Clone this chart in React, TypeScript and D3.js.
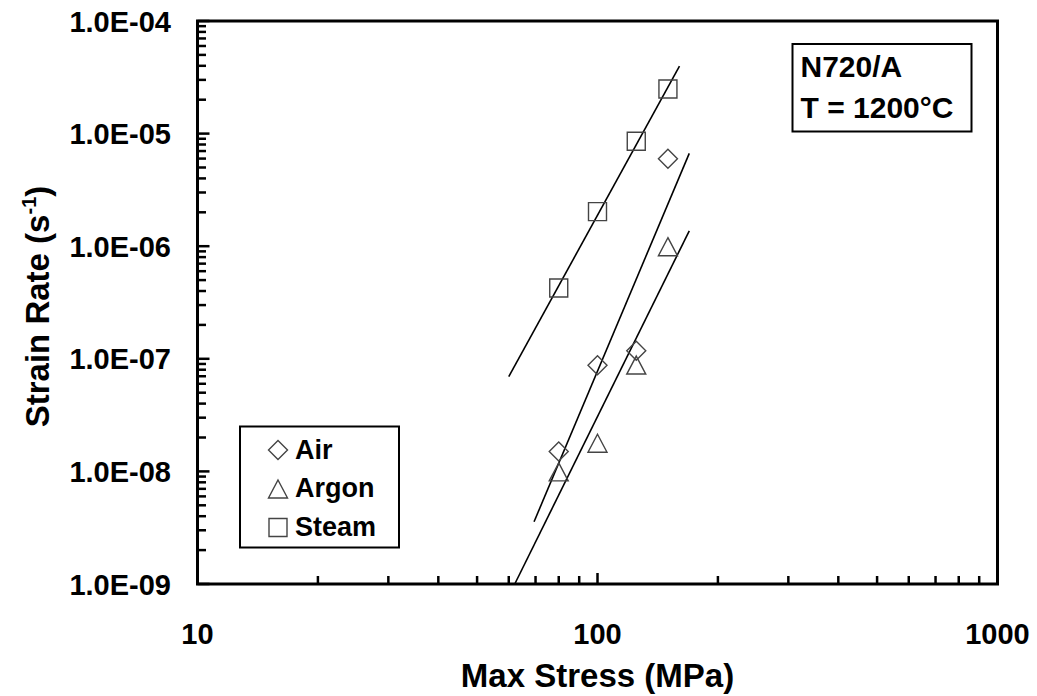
import React from "react";
import * as d3 from "d3";

// ---- data ----
const airStress = [80, 100, 125, 150];
const airRate = [1.5e-8, 8.75e-8, 1.18e-7, 5.98e-6];
const argonStress = [80, 100, 125, 150];
const argonRate = [9.9e-9, 1.78e-8, 8.8e-8, 9.9e-7];
const steamStress = [80, 100, 125, 150];
const steamRate = [4.25e-7, 2.03e-6, 8.55e-6, 2.49e-5];

// fit lines (end points)
const steamFitStress = [60.0, 160.3];
const steamFitRate = [6.93e-8, 3.98e-5];
const airFitStress = [69.4, 169.6];
const airFitRate = [3.57e-9, 6.68e-6];
const argonFitStress = [62.2, 169.6];
const argonFitRate = [1.01e-9, 1.37e-6];

const xTickValues = [10, 100, 1000];
const xTickLabels = ["10", "100", "1000"];
const yTickValues = [1e-9, 1e-8, 1e-7, 1e-6, 1e-5, 1e-4];
const yTickLabels = ["1.0E-09", "1.0E-08", "1.0E-07", "1.0E-06", "1.0E-05", "1.0E-04"];

const legendNames = ["Air", "Argon", "Steam"];
const legendShapes = ["diamond", "triangle", "square"];

const FONT = "'Liberation Sans', Arial, Helvetica, sans-serif";

const L = 197.5, T = 21, R = 997.5, B = 584;

function markerPath(shape: string, cx: number, cy: number): string {
  if (shape === "diamond") {
    const h = 9.5;
    return `M${cx},${cy - h}L${cx + h},${cy}L${cx},${cy + h}L${cx - h},${cy}Z`;
  }
  if (shape === "triangle") {
    const w = 9.5, h = 9;
    return `M${cx},${cy - h}L${cx + w},${cy + h}L${cx - w},${cy + h}Z`;
  }
  const s = 9;
  return `M${cx - s},${cy - s}H${cx + s}V${cy + s}H${cx - s}Z`;
}

export default function App() {
  const x = d3.scaleLog().domain([10, 1000]).range([L, R]);
  const y = d3.scaleLog().domain([1e-9, 1e-4]).range([B, T]);

  const xMinor: number[] = [];
  [10, 100].forEach((d) => { for (let k = 2; k <= 9; k++) xMinor.push(d * k); });
  const yMinor: number[] = [];
  [1e-9, 1e-8, 1e-7, 1e-6, 1e-5].forEach((d) => { for (let k = 2; k <= 9; k++) yMinor.push(d * k); });

  const line = d3.line<[number, number]>().x((d) => x(d[0])).y((d) => y(d[1]));
  const fit = (xs: number[], ys: number[]) => line(xs.map((v, i) => [v, ys[i]] as [number, number])) || "";

  const series = [
    { xs: airStress, ys: airRate, shape: "diamond" },
    { xs: argonStress, ys: argonRate, shape: "triangle" },
    { xs: steamStress, ys: steamRate, shape: "square" },
  ];

  const legendY = [450, 489, 527.5];
  const legendBaseline = [458.5, 497, 535.5];

  return (
    <svg width={1037} height={696} style={{ position: "absolute", left: 0, top: 0, background: "#fff" }}>
      <rect x={0} y={0} width={1037} height={696} fill="#fff" />
      <defs>
        <clipPath id="plotClip">
          <rect x={L} y={T} width={R - L} height={B - T} />
        </clipPath>
      </defs>

      {/* fit lines */}
      <g clipPath="url(#plotClip)" fill="none" stroke="#000" strokeWidth={1.6}>
        <path d={fit(steamFitStress, steamFitRate)} />
        <path d={fit(airFitStress, airFitRate)} />
        <path d={fit(argonFitStress, argonFitRate)} />
      </g>

      {/* markers */}
      <g fill="none" stroke="#444" strokeWidth={1.4}>
        {series.map((s, si) =>
          s.xs.map((v, i) => <path key={`${si}-${i}`} d={markerPath(s.shape, x(v), y(s.ys[i]))} />)
        )}
      </g>

      {/* ticks */}
      <g stroke="#000" strokeWidth={2.5}>
        {xTickValues.map((v) => (
          <line key={`xM${v}`} x1={x(v)} x2={x(v)} y1={B} y2={B - 11} />
        ))}
        {xMinor.map((v) => (
          <line key={`xm${v}`} x1={x(v)} x2={x(v)} y1={B} y2={B - 8} />
        ))}
        {yTickValues.map((v) => (
          <line key={`yM${v}`} x1={L} x2={L + 12} y1={y(v)} y2={y(v)} />
        ))}
        {yMinor.map((v, i) => (
          <line key={`ym${i}`} x1={L} x2={L + 8.5} y1={y(v)} y2={y(v)} />
        ))}
      </g>

      {/* frame */}
      <rect x={L} y={T} width={R - L} height={B - T} fill="none" stroke="#000" strokeWidth={3} />

      {/* tick labels */}
      <g fontFamily={FONT} fontWeight="bold" fontSize={29} fill="#000">
        {xTickValues.map((v, i) => (
          <text key={`xl${v}`} x={x(v)} y={644} textAnchor="middle">{xTickLabels[i]}</text>
        ))}
        {yTickValues.map((v, i) => (
          <text key={`yl${v}`} x={171} y={y(v) + 10.5} textAnchor="end">{yTickLabels[i]}</text>
        ))}
      </g>

      {/* axis titles */}
      <text x={(L + R) / 2} y={687} textAnchor="middle" fontFamily={FONT} fontWeight="bold" fontSize={33}>
        Max Stress (MPa)
      </text>
      <text
        transform={`translate(48.5,${(T + B) / 2 + 4}) rotate(-90)`}
        textAnchor="middle"
        fontFamily={FONT}
        fontWeight="bold"
        fontSize={33}
      >
        Strain Rate (s<tspan fontSize={20} dy={-13}>-1</tspan><tspan dy={13}>)</tspan>
      </text>

      {/* legend */}
      <rect x={240} y={426.5} width={159} height={121} fill="#fff" stroke="#000" strokeWidth={2} />
      {legendNames.map((n, i) => (
        <g key={n}>
          <path d={markerPath(legendShapes[i], 278, legendY[i])} fill="none" stroke="#444" strokeWidth={1.4} />
          <text x={295} y={legendBaseline[i]} fontFamily={FONT} fontWeight="bold" fontSize={27}>{n}</text>
        </g>
      ))}

      {/* annotation */}
      <rect x={792.5} y={44} width={179} height={87.5} fill="#fff" stroke="#000" strokeWidth={2} />
      <text x={800.5} y={77} fontFamily={FONT} fontWeight="bold" fontSize={30}>N720/A</text>
      <text x={800.5} y={117.5} fontFamily={FONT} fontWeight="bold" fontSize={30}>T = 1200°C</text>
    </svg>
  );
}
